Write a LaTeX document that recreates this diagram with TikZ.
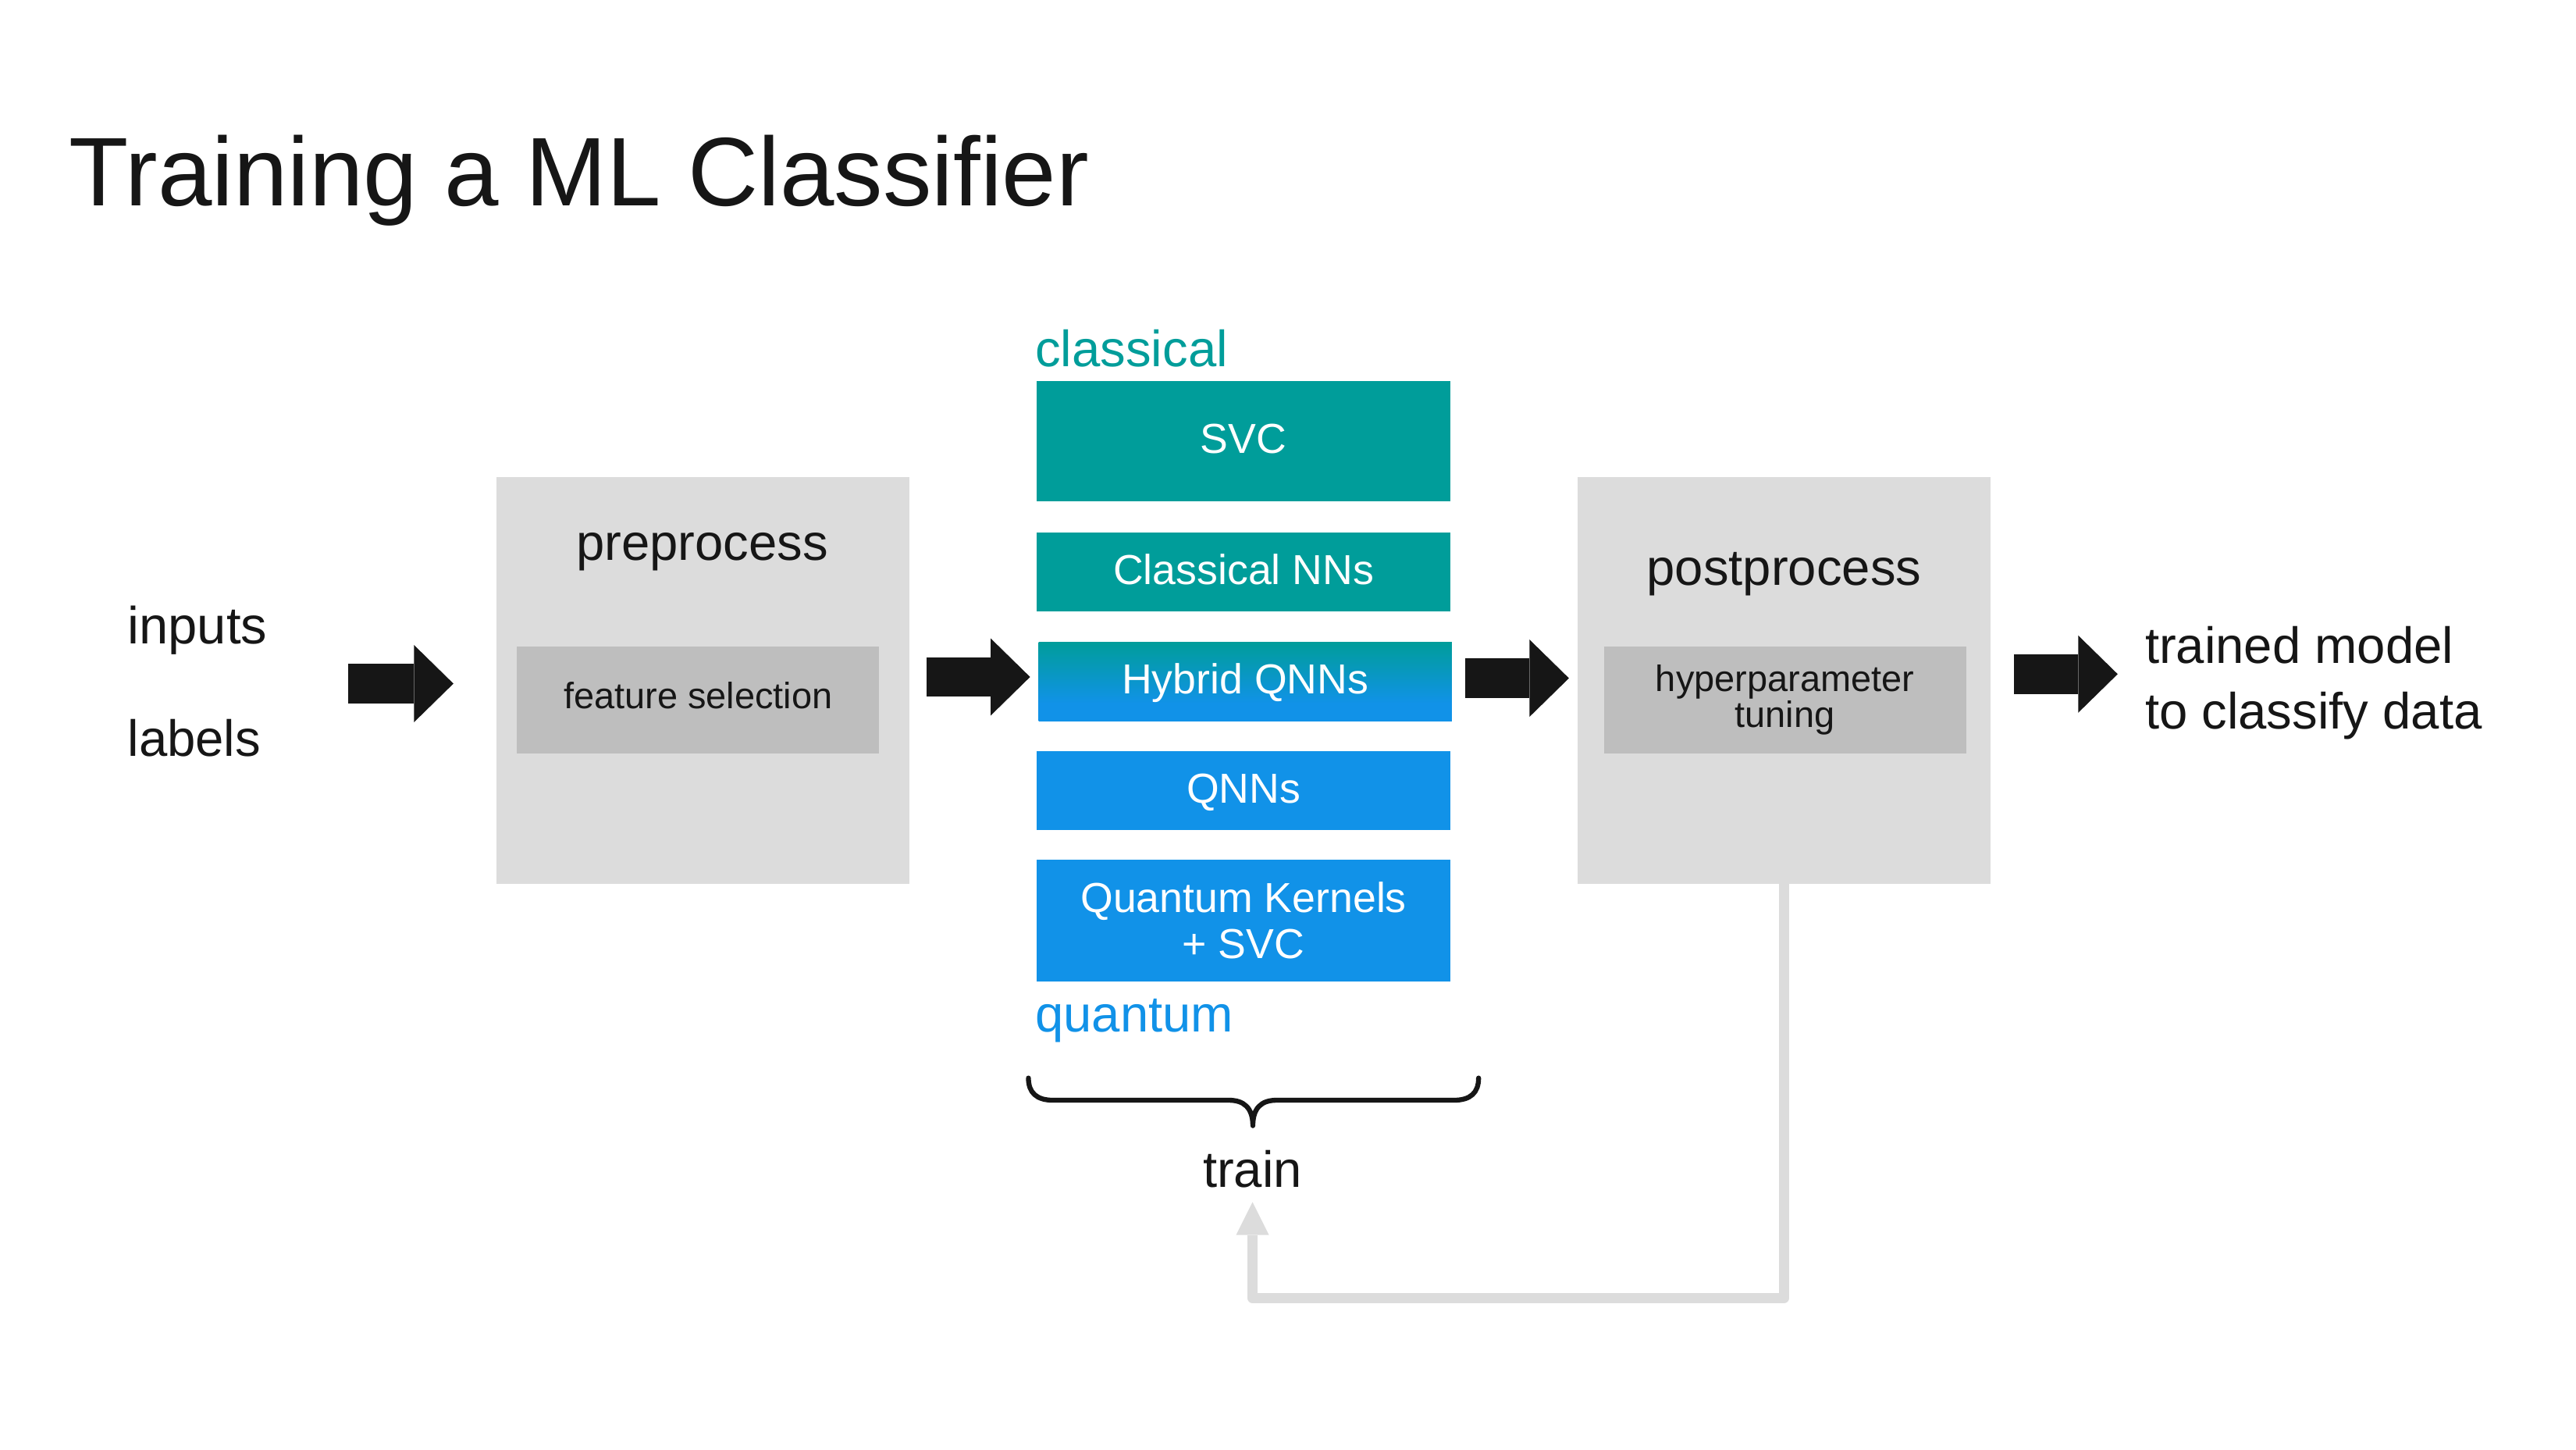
\documentclass[tikz,border=0pt]{standalone}
\usepackage{fontspec}
\setmainfont{Liberation Sans}
\usetikzlibrary{arrows.meta}
\definecolor{ink}{HTML}{161616}
\definecolor{ibmteal}{HTML}{009D9A}
\definecolor{ibmblue}{HTML}{1192E8}
\definecolor{panelgray}{HTML}{DCDCDC}
\definecolor{subgray}{HTML}{BEBEBE}
\pgfdeclareverticalshading{hybshade}{100bp}{color(0bp)=(ibmblue); color(36bp)=(ibmblue); color(75bp)=(ibmteal); color(100bp)=(ibmteal)}
\newcommand\fsz[2]{\fontsize{#1}{#2}\selectfont}
\begin{document}
\begin{tikzpicture}[x=1pt,y=-1pt,
  panelbox/.style={fill=panelgray, draw=none, anchor=north west, minimum width=251.5pt, minimum height=247.5pt, inner sep=0pt},
  subbox/.style={fill=subgray, draw=none, anchor=north west, minimum width=220.5pt, minimum height=65.5pt, inner sep=0pt, text=ink, font=\fsz{22.3}{22}, align=center},
  modelbox/.style={draw=none, anchor=north west, minimum width=251.5pt, inner sep=0pt, text=white, font=\fsz{25.5}{28}},
  oneline/.style={text height=14.8pt, text depth=0pt},
  lbl/.style={inner sep=0pt, text=ink, font=\fsz{31}{40}, anchor=base},
  blockarrow/.style={draw=ink, line width=24pt, -{Triangle[length=24pt,width=47pt,line width=0pt]}},
  feedback/.style={draw=panelgray, line width=6pt, line join=round, -{Triangle[length=20pt,width=20pt,line width=0pt]}},
  bracestyle/.style={draw=ink, line width=3pt, line cap=round, line join=round}
]
\useasboundingbox (0,0) rectangle (1568,882);
\fill[white] (0,0) rectangle (1568,882);

% title
\node[lbl, anchor=base west, font=\fsz{59.3}{60}] (title) at (42,125.3) {Training a ML Classifier};

% inputs
\node[lbl, anchor=base west, font=\fsz{31.8}{40}] (inputs) at (77.5,391.7) {inputs};
\node[lbl, anchor=base west] (labels) at (77.5,460) {labels};
\coordinate (src) at (212,416);

% preprocess
\node[panelbox] (pre) at (302,290) {};
\node[lbl] (pretitle) at (427.5,340.7) {preprocess};
\node[subbox, text height=10.5pt, text depth=0pt] (fs) at (314.5,393) {feature selection};

% models
\node[lbl, anchor=base west, text=ibmteal] (classical) at (630,223.3) {classical};
\node[modelbox, oneline, fill=ibmteal, minimum height=73.5pt] (svc) at (631,231.5) {SVC};
\node[modelbox, oneline, fill=ibmteal, minimum height=48pt] (cnn) at (631,324) {Classical NNs};
\node[modelbox, oneline, shade, shading=hybshade, minimum height=48pt] (hyb) at (632,390.5) {Hybrid QNNs};
\node[modelbox, oneline, fill=ibmblue, minimum height=48pt] (qnn) at (631,457) {QNNs};
\node[modelbox, fill=ibmblue, minimum height=74pt, align=center] (qk) at (631,523) {Quantum Kernels\\+ SVC};
\node[lbl, anchor=base west, text=ibmblue] (quantum) at (630,627.7) {quantum};

% brace and train
\draw[bracestyle] (626,656) .. controls (626,665) and (631,669.5) .. (641,669.5)
  -- (748,669.5) .. controls (757,669.5) and (762.6,674) .. (762.6,685)
  .. controls (762.6,674) and (768,669.5) .. (777,669.5)
  -- (885,669.5) .. controls (895,669.5) and (900,665) .. (900,656);
\node[lbl] (train) at (762.4,722.7) {train};

% postprocess
\node[panelbox] (post) at (960,290) {};
\node[lbl] (posttitle) at (1085.9,356) {postprocess};
\node[subbox] (hp) at (976,393) {hyperparameter\\tuning};

% output
\node[lbl, anchor=base west] (out1) at (1305.5,403.6) {trained model};
\node[lbl, anchor=base west] (out2) at (1305.5,443.4) {to classify data};

% arrows
\draw[blockarrow, shorten >=26pt] (src) -- (src -| pre.west);
\draw[blockarrow, shorten <=10pt, shorten >=5pt] ([yshift=2pt]pre.east) -- ([yshift=2pt]pre.east -| hyb.west);
\draw[blockarrow, shorten <=8pt, shorten >=5pt] ([yshift=2pt]hyb.east) -- ([yshift=2pt]hyb.east -| post.west);
\draw[blockarrow, shorten <=14pt, shorten >=16.5pt] ([yshift=3.75pt]post.east) -- ([yshift=3.75pt]post.east -| out1.west);

% feedback loop
\draw[feedback] (post.south) -- ++(0,252.1) -| ([yshift=-8.3pt]train.south);
\end{tikzpicture}
\end{document}
